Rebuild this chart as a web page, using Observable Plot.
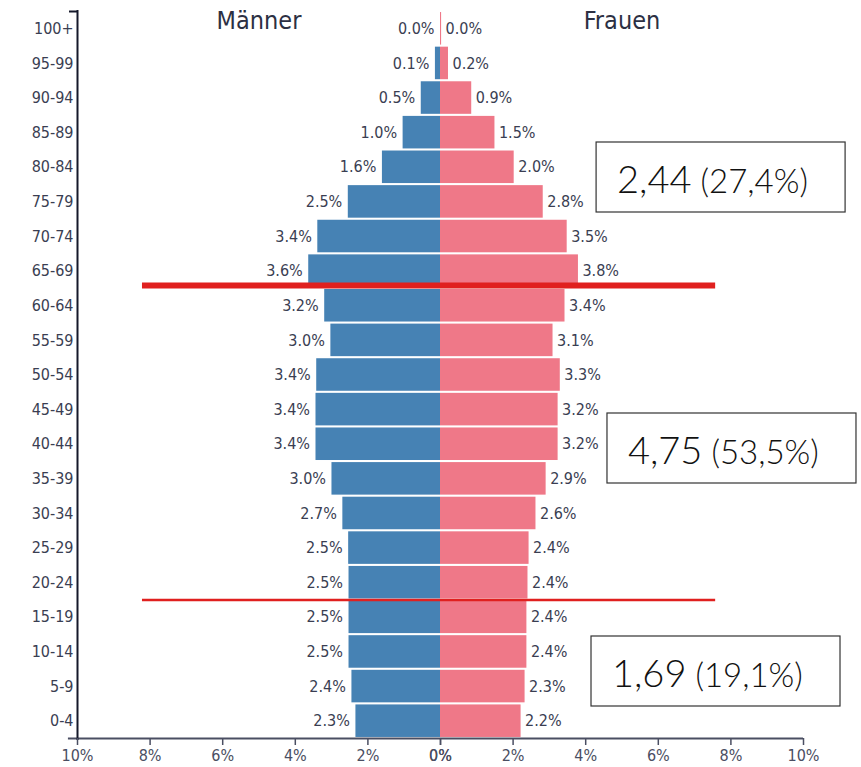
<!DOCTYPE html>
<html>
<head>
<meta charset="utf-8">
<script src="https://cdn.jsdelivr.net/npm/d3@7"></script>
<script src="https://cdn.jsdelivr.net/npm/@observablehq/plot@0.6"></script>
<style>
  html, body { margin: 0; padding: 0; background: #fff; }
  #chart { width: 861px; height: 767px; }
</style>
</head>
<body>
<div id="chart"></div>
<script>
// Age groups, bottom (youngest) to top (oldest)
const ageGroups = ["0-4","5-9","10-14","15-19","20-24","25-29","30-34","35-39","40-44","45-49","50-54","55-59","60-64","65-69","70-74","75-79","80-84","85-89","90-94","95-99","100+"];
// Share of total population, in percent
const maleShare   = [2.33,2.44,2.52,2.52,2.52,2.53,2.69,2.99,3.43,3.43,3.41,3.02,3.19,3.63,3.38,2.54,1.60,1.03,0.53,0.14,0.00];
const femaleShare = [2.22,2.33,2.38,2.38,2.41,2.44,2.63,2.91,3.24,3.24,3.30,3.10,3.43,3.80,3.49,2.83,2.03,1.50,0.86,0.22,0.03];
// Axis ticks
const xTicks = [-10,-8,-6,-4,-2,0,0,2,4,6,8,10];
// Side titles
const sideTitles = ["Männer","Frauen"];
// Summary boxes (old / working age / young)
const summaryValues = ["2,44","4,75","1,69"];
const summaryShares = ["(27,4%)","(53,5%)","(19,1%)"];

const W = 861, H = 767;
const mL = 77, mR = 58, mT = 11, mB = 29;
const step = (H - mT - mB) / ageGroups.length;

const rows = ageGroups.map((g, i) => ({age: g, male: maleShare[i], female: femaleShare[i]}));
const textColor = "#3a3e52";
const font = "'DejaVu Sans Condensed','DejaVu Sans',sans-serif";

const plot = Plot.plot({
  width: W, height: H,
  marginLeft: mL, marginRight: mR, marginTop: mT, marginBottom: mB,
  style: {fontFamily: font, background: "white", color: textColor, overflow: "visible"},
  x: {domain: [-10, 10]},
  y: {domain: ageGroups.slice().reverse(), paddingInner: 0.06, paddingOuter: 0.03, round: false},
  marks: [
    Plot.barX(rows, {y: "age", x1: () => 0, x2: d => -d.male, fill: "#4682b4"}),
    Plot.barX(rows, {y: "age", x1: () => 0, x2: "female", fill: "#ef7888"}),
    Plot.text(rows, {y: "age", x: d => -d.male, text: d => d.male.toFixed(1) + "%",
      textAnchor: "end", dx: -6, fontSize: 16, fill: textColor}),
    Plot.text(rows, {y: "age", x: "female", text: d => d.female.toFixed(1) + "%",
      textAnchor: "start", dx: 4, fontSize: 16, fill: textColor}),
    Plot.text(sideTitles, {x: (d, i) => i === 0 ? -5 : 5, text: d => d, frameAnchor: "top",
      lineAnchor: "top", fontSize: 25, fill: "#2c3043"}),
    // age boundary markers
    Plot.ruleY(["65-69"], {x1: () => -8.21, x2: () => 7.58, dy: step / 2 - 3, stroke: "#e0201f", strokeWidth: 6}),
    Plot.ruleY(["20-24"], {x1: () => -8.21, x2: () => 7.58, dy: step / 2, stroke: "#e0201f", strokeWidth: 2.5}),
    // axis lines
    Plot.ruleY(["0-4"], {x1: () => -10.25, x2: () => 10, dy: step / 2, stroke: "#4a4e62", strokeWidth: 2}),
    Plot.ruleX([-10], {stroke: "#15182a", strokeWidth: 2, insetTop: -1, insetBottom: -2}),
    Plot.ruleY(["100+"], {x1: () => -10.22, x2: () => -10, dy: -step / 2, stroke: "#15182a", strokeWidth: 2}),
    Plot.axisY({tickSize: 0, tickPadding: 4, fontSize: 16, label: null, color: textColor}),
    Plot.axisX({ticks: xTicks, tickSize: 7, tickPadding: 4, fontSize: 16, label: null,
      tickFormat: d => Math.abs(d) + "%", color: "#4a4e62", strokeWidth: 1.5})
  ]
});
document.getElementById("chart").appendChild(plot);

// Summary annotation boxes
const xs = plot.scale("x");
const boxX = [4.30, 4.60, 4.16];
const boxTop = [142, 413, 636];
const boxW = 249, boxH = 70;
const svg = d3.select(plot);
summaryValues.forEach((v, i) => {
  const left = xs.apply(boxX[i]);
  const g = svg.append("g");
  g.append("rect").attr("x", left).attr("y", boxTop[i]).attr("width", boxW).attr("height", boxH)
    .attr("fill", "white").attr("stroke", "#333").attr("stroke-width", 1.2);
  const t = g.append("text").attr("x", left + 21).attr("y", boxTop[i] + 51)
    .attr("text-anchor", "start")
    .attr("font-family", "Lato, 'Open Sans', sans-serif").attr("font-weight", 300).attr("fill", "#111");
  t.append("tspan").attr("font-size", 38).text(v);
  t.append("tspan").attr("font-size", 33).text(" " + summaryShares[i]);
});
</script>
</body>
</html>
